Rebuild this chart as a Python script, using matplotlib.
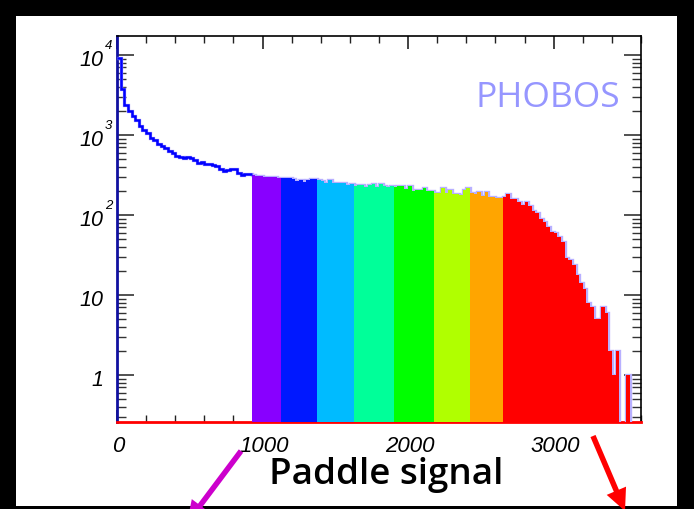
import matplotlib
matplotlib.use('Agg')
import matplotlib.pyplot as plt
import numpy as np
from matplotlib.patches import Rectangle, FancyArrow
from matplotlib.ticker import LogLocator, MultipleLocator, NullFormatter

# histogram contents, bins of 25 counts wide starting at 0
bin_width = 25
counts_head = [9100, 3760, 2370, 2000, 1730, 1540, 1310, 1150, 1050, 920,
               870, 770, 720, 690, 635, 595, 550, 525, 515, 530,
               515, 485, 447, 455, 435, 430, 420, 410, 376, 355,
               365, 380, 380, 335, 318, 325, 325]
counts_plateau = [318, 310, 303, 300, 299, 296, 296, 293, 290, 290,
                  290, 282, 264, 275, 260, 275, 278, 278, 275, 266,
                  250, 270, 250, 250, 250, 250, 240, 245, 233, 237,
                  237, 222, 235, 245, 226, 245, 233, 222, 233, 226,
                  228, 228, 211, 228, 200, 207, 207, 215, 200, 198,
                  187, 187, 217, 187, 207, 182, 182, 178, 207, 215,
                  188, 182, 192, 171, 192, 170, 170, 163, 163]
counts_tail = [166, 183, 158, 158, 145, 133, 145, 130, 113, 106,
               89, 81, 71, 62, 60, 53, 46, 29, 27, 24,
               18, 14, 12, 8, 7, 5, 5, 7, 6, 2,
               1, 2, 0, 0, 1, 0, 0, 0]

# centrality bands (lower edges) and their fill colours
band_edges = [925, 1125, 1375, 1625, 1900, 2175, 2425, 2650, 3600]
band_colors = ['#8800ff', '#0018ff', '#00bbff', '#00ff99',
               '#00ff00', '#b0ff00', '#ffa500', '#ff0000']

x_ticks = [0, 1000, 2000, 3000]
x_tick_labels = ['0', '1000', '2000', '3000']
y_ticks = [1, 10, 100, 1000, 10000]
y_tick_bases = ['1', '10', '10', '10', '10']
y_tick_exps = ['', '', '2', '3', '4']

W, H = 694, 510
fig = plt.figure(figsize=(W / 100, H / 100), dpi=100, facecolor='black')
fig.add_artist(Rectangle((16 / W, 3 / H), 661 / W, 490 / H, transform=fig.transFigure,
                         facecolor='white', edgecolor='none', zorder=-5))

ax = fig.add_axes([117 / W, (H - 423) / H, 524 / W, 386 / H])
ax.set_facecolor('white')

counts = np.array(counts_head + counts_plateau + counts_tail, dtype=float)
edges = np.arange(len(counts) + 1) * bin_width
plot_counts = np.where(counts > 0, counts, 1e-3)

ax.set_yscale('log')
ax.set_xlim(0, 3600)
ax.set_ylim(0.258, 17300)

# faint outline of the whole histogram (shows as light edge above fills)
ax.stairs(plot_counts, edges, color='#b8b0ff', lw=2.4, zorder=2.6, baseline=None)

for lo, hi, c in zip(band_edges[:-1], band_edges[1:], band_colors):
    i0 = np.searchsorted(edges, lo)
    i1 = np.searchsorted(edges, hi)
    ax.stairs(plot_counts[i0:i1], edges[i0:i1 + 1], fill=True, baseline=1e-3,
              color=c, lw=0, zorder=3)

nb = np.searchsorted(edges, band_edges[0])
ax.stairs(counts[:nb], edges[:nb + 1], color='#0000ff', lw=1.8, zorder=3.5, baseline=None)

# axes frame and ticks (ROOT-like)
ax.spines['left'].set_color('#1010a0')
ax.spines['left'].set_linewidth(2)
ax.spines['bottom'].set_color('red')
ax.spines['bottom'].set_linewidth(2)
for s in ['top', 'right']:
    ax.spines[s].set_linewidth(1.2)

ax.xaxis.set_major_locator(MultipleLocator(1000))
ax.xaxis.set_minor_locator(MultipleLocator(200))
ax.yaxis.set_major_locator(LogLocator(base=10, numticks=10))
ax.yaxis.set_minor_locator(LogLocator(base=10, subs=np.arange(2, 10), numticks=20))
ax.yaxis.set_minor_formatter(NullFormatter())
ax.tick_params(axis='x', which='both', direction='in', top=True, bottom=True,
               labelbottom=False, color='#222222')
ax.tick_params(axis='x', which='major', length=9, width=1.2)
ax.tick_params(axis='x', which='minor', length=5, width=1)
ax.tick_params(axis='y', which='both', direction='in', left=True, right=True,
               labelleft=False, color='#333333')
ax.tick_params(axis='y', which='major', length=12, width=1.2)
ax.tick_params(axis='y', which='minor', length=6.5, width=1)

lab_font = dict(family='Liberation Sans', style='italic', color='black')
for v, lbl in zip(x_ticks, x_tick_labels):
    ax.annotate(lbl, xy=(v, 0), xycoords=('data', 'axes fraction'),
                xytext=(1.5, -29), textcoords='offset pixels',
                ha='center', va='baseline', fontsize=16, **lab_font)
for v, b, e in zip(y_ticks, y_tick_bases, y_tick_exps):
    ax.annotate(b, xy=(0, v), xycoords=('axes fraction', 'data'),
                xytext=(-14, -10), textcoords='offset pixels',
                ha='right', va='baseline', fontsize=15.5, **lab_font)
    if e:
        ax.annotate(e, xy=(0, v), xycoords=('axes fraction', 'data'),
                    xytext=(-12, 7), textcoords='offset pixels',
                    ha='left', va='baseline', fontsize=9.5, **lab_font)

fig.text(548 / W, 1 - 107 / H, 'PHOBOS', color='#9696ff', fontsize=25.5,
         family='Open Sans', ha='center', va='baseline')
fig.text(386 / W, 1 - 484 / H, 'Paddle signal', color='black', fontsize=26.5,
         family='Open Sans', fontweight='semibold', ha='center', va='baseline')

# arrows running off the bottom of the picture
def arrow(x0, y0, x1, y1, color):
    a = FancyArrow(x0 / 100, (H - y0) / 100, (x1 - x0) / 100, -(y1 - y0) / 100,
                   width=0.055, head_width=0.21, head_length=0.22,
                   length_includes_head=True, color=color, lw=0,
                   transform=fig.dpi_scale_trans, zorder=10)
    fig.add_artist(a)

arrow(241, 452, 187, 524, '#cc00cc')
arrow(593, 437, 625, 512, '#ff0000')

fig.savefig('out.png', dpi=100, facecolor='black')
